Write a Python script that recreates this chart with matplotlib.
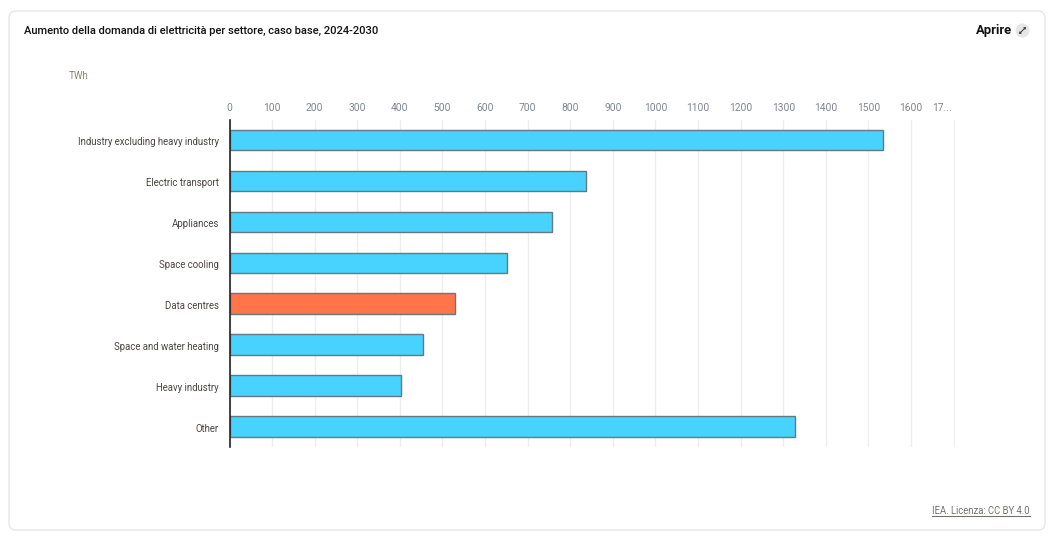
import matplotlib
matplotlib.use('Agg')
import matplotlib.pyplot as plt
from matplotlib.patches import FancyBboxPatch, Circle
from matplotlib.transforms import ScaledTranslation

plt.rcParams['font.family'] = ['Roboto', 'DejaVu Sans']

W, H = 1060, 542

sectors = ["Industry excluding heavy industry", "Electric transport", "Appliances",
           "Space cooling", "Data centres", "Space and water heating",
           "Heavy industry", "Other"]
growth_twh = [1533, 838, 756, 651, 530, 454, 403, 1327]
highlight = "Data centres"
tick_values = list(range(0, 1800, 100))
tick_labels = [str(v) for v in range(0, 1700, 100)] + ["17..."]

BLUE = '#48d3ff'
ORANGE = '#ff7449'
EDGE = '#66787f'

fig = plt.figure(figsize=(W / 100, H / 100), dpi=100, facecolor='white')

# background layer in pixel coords, for the card and loose text
bg = fig.add_axes([0, 0, 1, 1])
bg.set_xlim(0, W)
bg.set_ylim(H, 0)
bg.axis('off')
bg.add_patch(FancyBboxPatch((9, 11), 1036, 519, boxstyle='round,pad=0,rounding_size=7',
                            fc='white', ec='#e6e6e6', lw=1))
bg.text(24, 30.5, "Aumento della domanda di elettricità per settore, caso base, 2024-2030",
        fontsize=8.0, fontweight='medium', color='#111111', va='center', ha='left')
bg.text(1012, 30.5, "Aprire", fontsize=9.4, fontweight='bold', color='#111111',
        va='center', ha='right')
bg.add_patch(Circle((1022.5, 30.5), 7, fc='#e6e6e6', ec='none'))
# expand icon, no installed font has this glyph
bg.annotate('', xy=(1026, 27), xytext=(1019, 34),
            arrowprops=dict(arrowstyle='<->,head_length=0.1,head_width=0.07', color='#333333', lw=0.7,
                            shrinkA=0, shrinkB=0))
bg.text(69, 76, "TWh", fontsize=7, color='#8f8372', va='center', ha='left')
bg.text(1029, 511, "IEA. Licenza: CC BY 4.0", fontsize=6.85, color='#77706a',
        va='center', ha='right')
bg.plot([931.5, 1029.5], [515.5, 515.5], color='#77706a', lw=0.8)

# chart
left, right, top, bottom = 229.5, 954.5, 119.5, 447
ax = fig.add_axes([left / W, 1 - bottom / H, (right - left) / W, (bottom - top) / H])
ax.patch.set_alpha(0)
colors = [ORANGE if s == highlight else BLUE for s in sectors]
ax.barh(sectors, growth_twh, height=0.5, color=colors, edgecolor=EDGE, linewidth=1, zorder=3)
ax.set_ylim(7.5, -0.5)
ax.set_xlim(0, 1702)

ax.xaxis.tick_top()
ax.set_xticks(tick_values, tick_labels)
ax.grid(axis='x', color='#eeeeee', lw=1, zorder=0)
ax.tick_params(axis='x', length=0, pad=5, labelsize=7.4, labelcolor='#7f8690')
ax.tick_params(axis='y', length=0, pad=7.5, labelsize=6.9, labelcolor='#4a4640')
for side in ['top', 'right', 'bottom']:
    ax.spines[side].set_visible(False)
ax.spines['left'].set_color('#222222')
ax.spines['left'].set_linewidth(1.2)
ax.spines['left'].set_zorder(4)

# category labels sit a bit below the bar centres
for lab in ax.get_yticklabels():
    lab.set_transform(lab.get_transform() + ScaledTranslation(0, -0.9 / 72, fig.dpi_scale_trans))

# truncated last tick label is pushed left of its gridline
last = ax.get_xticklabels()[-1]
last.set_ha('right')
last.set_transform(last.get_transform() + ScaledTranslation(-1.2 / 72, 0, fig.dpi_scale_trans))

fig.savefig('out.png', dpi=100)
